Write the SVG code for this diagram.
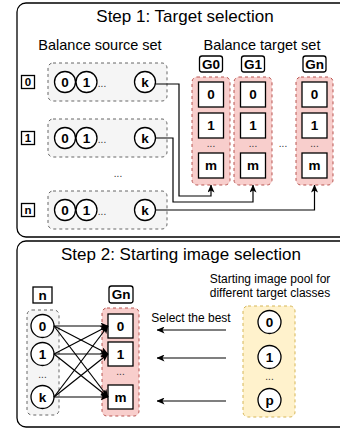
<svg xmlns="http://www.w3.org/2000/svg" width="340" height="430" viewBox="0 0 340 430">
<defs>
<marker id="arr" viewBox="0 0 8 7" refX="7.5" refY="3.5" markerWidth="8" markerHeight="7" markerUnits="userSpaceOnUse" orient="auto">
<path d="M0,0 L8,3.5 L0,7 L2,3.5 z" fill="#000"/>
</marker>
<style>
.frame{fill:#fff;stroke:#000;stroke-width:1.3}
.title{font-family:"Liberation Sans",Arial,sans-serif;font-size:17px;text-anchor:middle;fill:#000}
.lbl{font-family:"Liberation Sans",Arial,sans-serif;font-size:14.5px;text-anchor:middle;fill:#000}
.small{font-family:"Liberation Sans",Arial,sans-serif;font-size:12px;text-anchor:middle;fill:#000}
.b{font-family:"Liberation Sans",Arial,sans-serif;font-weight:bold;text-anchor:middle;fill:#000}
.d13{font-size:13.5px}
.d11{font-size:11.5px}
.dots{font-family:"Liberation Sans",Arial,sans-serif;font-size:10px;text-anchor:middle;fill:#333}
.gray{fill:#f5f5f5;stroke:#666;stroke-width:1;stroke-dasharray:3 3}
.red{fill:#f8cecc;stroke:#b85450;stroke-width:1;stroke-dasharray:3 3}
.yel{fill:#fff2cc;stroke:#d6b656;stroke-width:1;stroke-dasharray:3 3}
.box{fill:#fff;stroke:#000;stroke-width:1.3}
.circ{fill:#fff;stroke:#000;stroke-width:1.3}
.conn{fill:none;stroke:#000;stroke-width:1.2}
</style>
</defs>
<rect class="frame" x="17" y="3" width="400" height="234" rx="9"/>
<rect class="frame" x="17" y="241" width="400" height="186" rx="9"/>
<text class="title" x="185" y="22">Step 1: Target selection</text>
<text class="title" x="181" y="260">Step 2: Starting image selection</text>
<text class="lbl" x="100" y="50">Balance source set</text>
<text class="lbl" x="262" y="50">Balance target set</text>

<g id="src0">
<rect class="box" x="21.5" y="75.5" width="13" height="13"/>
<text class="b d11" x="28" y="86">0</text>
<rect class="gray" x="48" y="63" width="119" height="38" rx="5"/>
<circle class="circ" cx="65" cy="82" r="10.5"/><text class="b d13" x="65" y="87">0</text>
<circle class="circ" cx="86.5" cy="82" r="10.5"/><text class="b d13" x="86.5" y="87">1</text>
<text class="dots" x="102" y="87">...</text>
<circle class="circ" cx="145" cy="82" r="10.5"/><text class="b d13" x="145" y="87">k</text>
</g>
<g id="src1">
<rect class="box" x="21.5" y="131.5" width="13" height="13"/>
<text class="b d11" x="28" y="142">1</text>
<rect class="gray" x="48" y="119" width="119" height="38" rx="5"/>
<circle class="circ" cx="65" cy="138" r="10.5"/><text class="b d13" x="65" y="143">0</text>
<circle class="circ" cx="86.5" cy="138" r="10.5"/><text class="b d13" x="86.5" y="143">1</text>
<text class="dots" x="102" y="143">...</text>
<circle class="circ" cx="145" cy="138" r="10.5"/><text class="b d13" x="145" y="143">k</text>
</g>
<text class="dots" x="118" y="177">...</text>
<g id="srcn">
<rect class="box" x="21.5" y="203.5" width="13" height="13"/>
<text class="b d11" x="28" y="214">n</text>
<rect class="gray" x="48" y="191" width="119" height="38" rx="5"/>
<circle class="circ" cx="65" cy="210" r="10.5"/><text class="b d13" x="65" y="215">0</text>
<circle class="circ" cx="86.5" cy="210" r="10.5"/><text class="b d13" x="86.5" y="215">1</text>
<text class="dots" x="102" y="215">...</text>
<circle class="circ" cx="145" cy="210" r="10.5"/><text class="b d13" x="145" y="215">k</text>
</g>

<g id="G0">
<rect class="box" x="199.5" y="56" width="23" height="16" rx="2.5"/>
<text class="b d13" x="211" y="69">G0</text>
<rect class="red" x="192" y="77" width="38" height="108" rx="5"/>
<rect class="box" x="198.5" y="82" width="25" height="25"/><text class="b d13" x="211" y="99">0</text>
<rect class="box" x="198.5" y="113" width="25" height="25"/><text class="b d13" x="211" y="130">1</text>
<text class="dots" x="211" y="147">...</text>
<rect class="box" x="198.5" y="153" width="25" height="25"/><text class="b d13" x="211" y="170">m</text>
</g>
<g id="G1">
<rect class="box" x="241.5" y="56" width="23" height="16" rx="2.5"/>
<text class="b d13" x="253" y="69">G1</text>
<rect class="red" x="234" y="77" width="38" height="108" rx="5"/>
<rect class="box" x="240.5" y="82" width="25" height="25"/><text class="b d13" x="253" y="99">0</text>
<rect class="box" x="240.5" y="113" width="25" height="25"/><text class="b d13" x="253" y="130">1</text>
<text class="dots" x="253" y="147">...</text>
<rect class="box" x="240.5" y="153" width="25" height="25"/><text class="b d13" x="253" y="170">m</text>
</g>
<text class="dots" x="283" y="147">...</text>
<g id="Gn">
<rect class="box" x="303" y="56" width="23" height="16" rx="2.5"/>
<text class="b d13" x="314.5" y="69">Gn</text>
<rect class="red" x="296" y="77" width="37" height="108" rx="5"/>
<rect class="box" x="302" y="82" width="25" height="25"/><text class="b d13" x="314.5" y="99">0</text>
<rect class="box" x="302" y="113" width="25" height="25"/><text class="b d13" x="314.5" y="130">1</text>
<text class="dots" x="314.5" y="147">...</text>
<rect class="box" x="302" y="153" width="25" height="25"/><text class="b d13" x="314.5" y="170">m</text>
</g>

<g id="step2-src">
<rect class="box" x="33" y="287" width="19" height="16"/>
<text class="b d13" x="42.5" y="300">n</text>
<rect class="gray" x="27" y="310" width="32" height="105" rx="5"/>
<circle class="circ" cx="42.5" cy="326" r="11.5"/><text class="b d13" x="42.5" y="331">0</text>
<circle class="circ" cx="42.5" cy="354" r="11.5"/><text class="b d13" x="42.5" y="359">1</text>
<text class="dots" x="42.5" y="378">...</text>
<circle class="circ" cx="42.5" cy="397" r="11.5"/><text class="b d13" x="42.5" y="402">k</text>
</g>
<g id="step2-Gn">
<rect class="box" x="109" y="286" width="24" height="17" rx="2.5"/>
<text class="b d13" x="121" y="299">Gn</text>
<rect class="red" x="102" y="308" width="37" height="108" rx="5"/>
<rect class="box" x="108" y="314" width="25" height="24"/><text class="b d13" x="120.5" y="331">0</text>
<rect class="box" x="108" y="342" width="25" height="24"/><text class="b d13" x="120.5" y="359">1</text>
<text class="dots" x="120.5" y="375">...</text>
<rect class="box" x="108" y="385" width="25" height="24"/><text class="b d13" x="120.5" y="402">m</text>
</g>
<g id="pool">
<text class="small" x="270" y="283">Starting image pool for</text>
<text class="small" x="270" y="297">different target classes</text>
<rect class="yel" x="243" y="306" width="52" height="111" rx="5"/>
<circle class="circ" cx="269.5" cy="322" r="11.5"/><text class="b d13" x="269.5" y="327">0</text>
<circle class="circ" cx="269.5" cy="357" r="11.5"/><text class="b d13" x="269.5" y="362">1</text>
<text class="dots" x="269.5" y="380">...</text>
<circle class="circ" cx="269.5" cy="400" r="11.5"/><text class="b d13" x="269.5" y="405">p</text>
</g>
<text class="small" x="191" y="322">Select the best</text>

<g id="connectors">
<path class="conn" d="M156,84 H179 V196 H211 V185" marker-end="url(#arr)"/>
<path class="conn" d="M156,138 H173 V202 H253 V185" marker-end="url(#arr)"/>
<path class="conn" d="M156,210 H314.5 V185" marker-end="url(#arr)"/>
<path class="conn" d="M54,326 L108,326" marker-end="url(#arr)"/>
<path class="conn" d="M54,326 L108,354" marker-end="url(#arr)"/>
<path class="conn" d="M54,326 L108,397" marker-end="url(#arr)"/>
<path class="conn" d="M54,354 L108,326" marker-end="url(#arr)"/>
<path class="conn" d="M54,354 L108,354" marker-end="url(#arr)"/>
<path class="conn" d="M54,354 L108,397" marker-end="url(#arr)"/>
<path class="conn" d="M54,397 L108,326" marker-end="url(#arr)"/>
<path class="conn" d="M54,397 L108,354" marker-end="url(#arr)"/>
<path class="conn" d="M54,397 L108,397" marker-end="url(#arr)"/>
<path class="conn" d="M226,330 H157" marker-end="url(#arr)"/>
<path class="conn" d="M226,358 H157" marker-end="url(#arr)"/>
<path class="conn" d="M226,401 H157" marker-end="url(#arr)"/>
</g>
</svg>
